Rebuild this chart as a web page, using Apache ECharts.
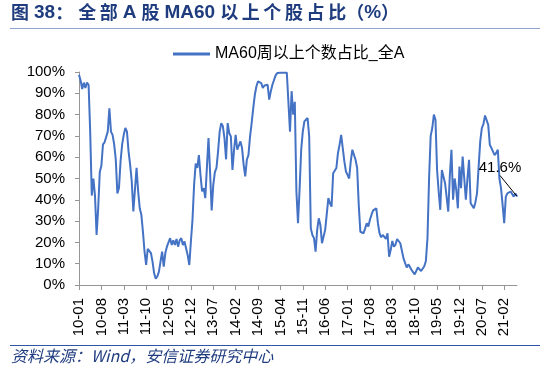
<!DOCTYPE html>
<html>
<head>
<meta charset="utf-8">
<script src="https://cdn.jsdelivr.net/npm/echarts@6/dist/echarts.min.js"></script>
<style>html,body{margin:0;padding:0;background:#fff}#c{width:550px;height:366px}</style>
</head>
<body>
<div id="c"></div>
<script>
// Half-monthly readings of "MA60周以上个数占比_全A" (%), 2010-01 .. 2021-05
var seg2010_2011 = [98.7,96,92,95,92.5,95,94,72,42,50,42,23.5,36,53,56,66,67,67,72,83,72,70.5,66,59,43,45.5,58,66,70.5,73.7,72,62.7,56.4,48.6,34.5,34.5,55,44,36,33,25,15.7,9.4,17,17,15,11,5.5];
var seg2012_2013 = [3,4,6.3,11,15.7,8.6,15,18,18.8,22,18.8,21,18.8,21.6,18,21,22,18.8,20.4,21,14,9.4,20.4,30.6,47,57,55,61,51.7,44,45.5,40.8,55,69,53,35,47,53,55,62.7,72,76,74.5,69,59,76,71.3,69.7];
var seg2014_2015 = [54,63.5,70.5,63.5,64.3,67.4,64.3,56.4,51,58.8,61,69.7,76,83,89.3,93.3,95.6,95.6,94.8,92.5,93.7,94.4,94,87,91,94,94.8,98.4,99.5,99.5,99.6,99.6,99.6,99.7,99.7,99.5,72,91,80,86,44,29,45,63.5,72,76.8,77.6,78.4];
var seg2016_2017 = [69.7,26.6,23.5,22,15.7,25.9,31.3,28.2,19.6,18.8,25.9,26.6,40.8,38.4,36.8,52.5,51.7,54.9,62,65.8,70.5,71.3,58,53.3,51.7,50,58,63.5,63.5,58.8,54.9,37.6,25,24.3,24.3,26.6,29,27.4,30.6,33,35,34.5,36,29,24.3,22.4,23.5,22.7];
var seg2018_2019 = [21.6,24.3,13.3,16.5,20.7,18,19,21.6,22,19.6,16.1,12.5,11.8,8.2,9.7,8.5,7.2,6,5,5.5,8.2,7.5,6.6,7,8.8,11.3,22,50,70,73.7,80,77.6,54,43.9,35.3,54,53.3,47.8,47,34.5,51.7,63.5,40,50,44.7,36,55.6,45.5];
var seg2020_2021 = [60.3,50,40,50,58.8,38.4,38.4,36,38.9,43.1,55.6,67.4,73.7,75.5,79.6,79.6,75.2,65.8,64.3,64,61,62,63.5,50,45.5,37.6,29,41.5,43,42.3,43.9,43.9,41.5,43,41.6];
var tickLabels = ['10-01','10-08','11-03','11-10','12-05','12-12','13-07','14-02','14-09','15-04','15-11','16-06','17-01','17-08','18-03','18-10','19-05','19-12','20-07','21-02'];
var yTicks = [0,10,20,30,40,50,60,70,80,90,100];
var seriesName = 'MA60周以上个数占比_全A';

var values = [].concat(seg2010_2011, seg2012_2013, seg2014_2015, seg2016_2017, seg2018_2019, seg2020_2021);
var STEP = 14; // points per 7 months
var categories = values.map(function (v, i) {
  return (i % STEP === 0 && tickLabels[i / STEP]) ? tickLabels[i / STEP] : ('p' + i);
});
var lastIdx = values.length - 1;
var data = values.map(function (v, i) {
  if (i === lastIdx) {
    return {
      value: v,
      symbol: 'circle', symbolSize: 1,
      itemStyle: { color: '#4472C4' },
      label: { show: true, formatter: v.toFixed(1) + '%', position: 'top', color: '#000' },
      labelLine: { show: true, lineStyle: { color: '#000', width: 1 } }
    };
  }
  return v;
});
var showTick = function (idx) { return idx % STEP === 0 && idx / STEP < tickLabels.length; };

var FONT = '"Liberation Sans", Arial, "Noto Sans CJK SC", sans-serif';
var CJK = '"Noto Sans CJK SC", sans-serif';
var ts = '\u2009';
var chart = echarts.init(document.getElementById('c'), null, { renderer: 'canvas' });
chart.setOption({
  animation: false,
  backgroundColor: '#fff',
  title: [{
    text: '{c|图} {l|38}{c|：} {c|全' + ts + '部} {l|A} {c|股} {l|MA60} {c|以' + ts + '上' + ts + '个' + ts + '股' + ts + '占' + ts + '比}{c|（}{l|%}{c|）}',
    left: 11, top: 3, padding: 0,
    textStyle: {
      color: '#1F3C7F', fontSize: 18,
      rich: {
        c: { fontFamily: CJK, fontWeight: 'bold', fontSize: 18, color: '#1F3C7F' },
        l: { fontFamily: '"Liberation Sans", Arial, sans-serif', fontWeight: 'bold', fontSize: 19, color: '#1F3C7F' }
      }
    }
  }, {
    text: '资料来源：Wind，安信证券研究中心',
    left: 11, top: 348, padding: 0,
    textStyle: { fontFamily: CJK, fontStyle: 'italic', fontWeight: 'normal', fontSize: 16, color: '#1F3C7F' }
  }],
  graphic: [
    { type: 'line', shape: { x1: 10, y1: 28.5, x2: 540, y2: 28.5 }, style: { stroke: '#8EA3CF', lineWidth: 1 } },
    { type: 'line', shape: { x1: 10, y1: 345.5, x2: 540, y2: 345.5 }, style: { stroke: '#2F56A6', lineWidth: 1 } }
  ],
  legend: {
    top: 41, left: 168,
    itemWidth: 37, itemHeight: 3, itemGap: 6,
    icon: 'rect',
    textStyle: { fontFamily: FONT, fontSize: 16, color: '#000' },
    data: [seriesName]
  },
  grid: { left: 79, right: 33, top: 72, bottom: 81, containLabel: false },
  xAxis: {
    type: 'category',
    data: categories,
    boundaryGap: false,
    axisLine: { lineStyle: { color: '#969696', width: 1 } },
    axisTick: { show: true, interval: showTick, length: 5, lineStyle: { color: '#969696' } },
    axisLabel: {
      interval: showTick, rotate: 90, margin: 13,
      fontFamily: FONT, fontSize: 15, color: '#000',
      formatter: function (v) { return v.charAt(0) === 'p' ? '' : v; }
    },
    splitLine: { show: false }
  },
  yAxis: {
    type: 'value',
    min: yTicks[0], max: yTicks[yTicks.length - 1], interval: 10,
    axisLine: { show: true, lineStyle: { color: '#969696', width: 1 } },
    axisTick: { show: true, length: 4, lineStyle: { color: '#969696' } },
    axisLabel: { fontFamily: FONT, fontSize: 15, color: '#000', margin: 14, formatter: '{value}%' },
    splitLine: { show: false }
  },
  series: [{
    name: seriesName,
    type: 'line',
    data: data,
    symbol: 'none',
    showSymbol: true,
    showAllSymbol: true,
    color: '#4472C4',
    lineStyle: { color: '#4472C4', width: 2 },
    label: { show: false, fontFamily: FONT, fontSize: 15, color: '#000' },
    labelLine: { show: false, lineStyle: { color: '#000', width: 1 } },
    labelLayout: function (p) {
      if (p.dataIndex === lastIdx) {
        return { x: 500, y: 168, align: 'center', verticalAlign: 'middle' };
      }
      return {};
    }
  }]
});
</script>
</body>
</html>
